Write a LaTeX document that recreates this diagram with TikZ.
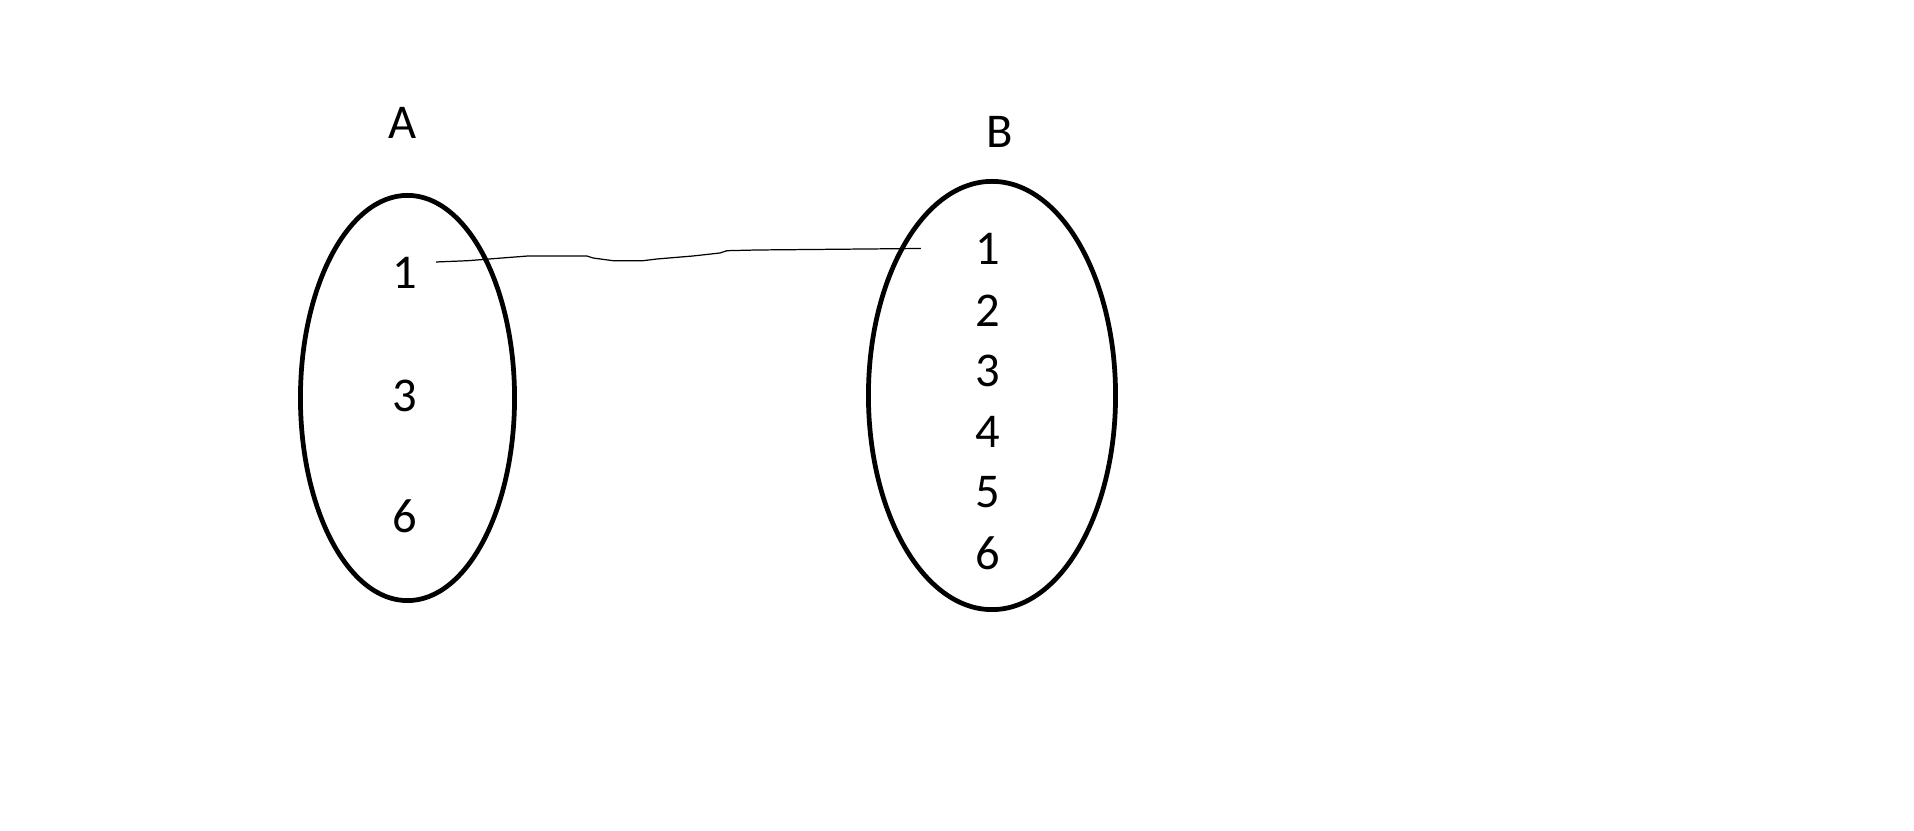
\documentclass[tikz,border=0pt]{standalone}
\usepackage{fontspec}
\setmainfont{Carlito}
\usetikzlibrary{shapes.geometric,positioning}

\begin{document}
\begin{tikzpicture}[
  x=0.01cm, y=-0.01cm,
  setoval/.style={ellipse, draw, line width=1.35pt, inner sep=0pt},
  setname/.style={inner sep=0pt, font=\fontsize{13.8}{16}\selectfont},
  elem/.style={inner sep=0pt, font=\fontsize{13.8}{16}\selectfont},
  link/.style={draw, line width=0.35pt},
]
  \useasboundingbox (0,0) rectangle (1914,831);

  % Set A
  \node[setoval, minimum width=2.14cm, minimum height=4.05cm] (setA) at (407.5,398) {};
  \node[setname] (nameA) at (403,123) {A};
  \node[elem] (a1) at (405,272.5) {1};
  \node[elem] (a3) at (405,396) {3};
  \node[elem] (a6) at (405,516) {6};

  % Set B
  \node[setoval, minimum width=2.47cm, minimum height=4.28cm] (setB) at (992,395.5) {};
  \node[setname] (nameB) at (1000,132) {B};
  \node[elem] (b1) at (988,248.5) {1};
  \node[elem] (b2) at (988,311) {2};
  \node[elem] (b3) at (988,371) {3};
  \node[elem] (b4) at (988,432) {4};
  \node[elem] (b5) at (988,492) {5};
  \node[elem] (b6) at (988,553) {6};

  % Hand-drawn link 1 -> 1
  \draw[link] ([xshift=0.18cm, yshift=0.105cm]a1.east)
    -- (468,260.7) -- (502,258) -- (528,256) -- (587,256) -- (593,258)
    -- (613,260.7) -- (643,260.7) -- (657,259) -- (693,256) -- (720,253)
    -- (727,250.7) -- (757,250)
    -- ([xshift=-0.54cm]b1.west);

\end{tikzpicture}
\end{document}
